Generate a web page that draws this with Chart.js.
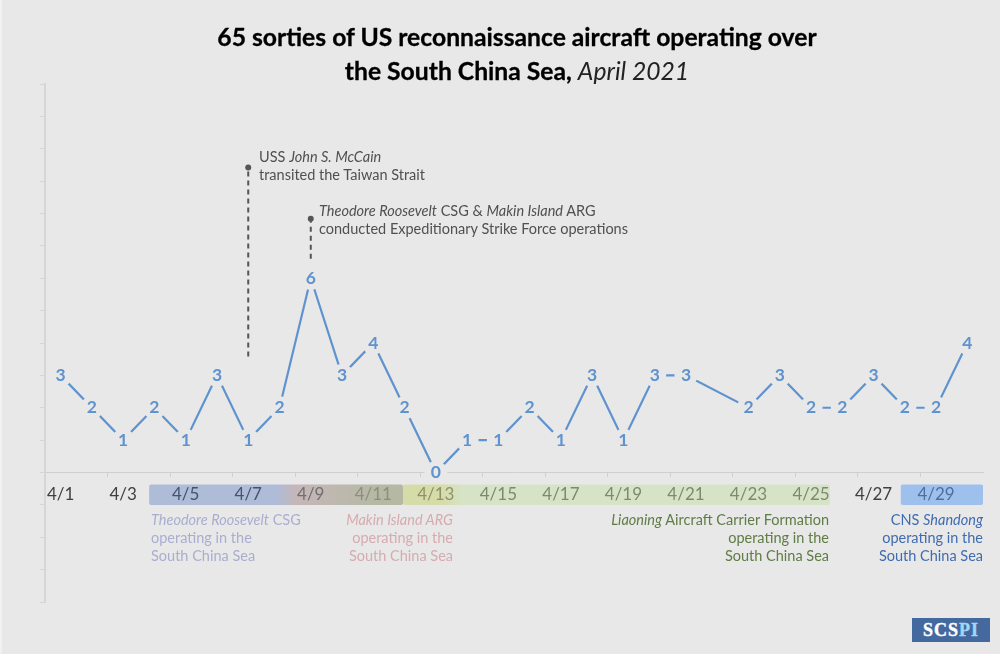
<!DOCTYPE html>
<html>
<head>
<meta charset="utf-8">
<script src="https://cdn.jsdelivr.net/npm/chart.js@4"></script>
<style>
  html, body { margin: 0; padding: 0; background: #e8e8e8; }
  #wrap { position: relative; width: 1000px; height: 654px; overflow: hidden; font-family: Lato, sans-serif; border-left: 2px solid #f1f1f1; box-sizing: border-box; }
  #myChart { position: absolute; left: -2px; top: 0; }
  .note { position: absolute; font-size: 14.5px; line-height: 18px; white-space: nowrap; }
  .right { text-align: right; }
  #title { position: absolute; left: -2px; width: 1034px; top: 20px; text-align: center; font-size: 24.7px; line-height: 34px; font-weight: 700; color: #000; -webkit-text-stroke: 0.3px #000; }
  #title i { font-weight: 400; color: #222; -webkit-text-stroke: 0; }
  #logo { position: absolute; left: 910px; top: 618px; width: 78px; height: 24px; background: #44699e; color: #fff; font: 700 18px/25px "Liberation Serif", serif; text-align: center; letter-spacing: 1px; -webkit-text-stroke: 0.4px; }
  #logo span { color: #9fd8f2; }
</style>
</head>
<body>
<div id="wrap">
  <canvas id="myChart" width="1000" height="654"></canvas>
  <div id="title">65 sorties of US reconnaissance aircraft operating over<br>the South China Sea, <i>April 2021</i></div>
  <div class="note" style="left:257px;top:148px;color:#505050">USS <i>John S. McCain</i><br>transited the Taiwan Strait</div>
  <div class="note" style="left:317px;top:202px;color:#505050"><i>Theodore Roosevelt</i> CSG &amp; <i>Makin Island</i> ARG<br>conducted Expeditionary Strike Force operations</div>
  <div class="note" style="left:149px;top:511px;color:#a9aed0"><i>Theodore Roosevelt</i> CSG<br>operating in the<br>South China Sea</div>
  <div class="note right" style="right:547px;top:511px;color:#d6abb0"><i>Makin Island ARG</i><br>operating in the<br>South China Sea</div>
  <div class="note right" style="right:171px;top:511px;color:#5f7d45"><i>Liaoning</i> Aircraft Carrier Formation<br>operating in the<br>South China Sea</div>
  <div class="note right" style="right:17px;top:511px;color:#3f6cb0">CNS <i>Shandong</i><br>operating in the<br>South China Sea</div>
  <div id="logo">SCS<span>PI</span></div>
</div>
<script>
var days = ["4/1","4/2","4/3","4/4","4/5","4/6","4/7","4/8","4/9","4/10","4/11","4/12","4/13","4/14","4/15","4/16","4/17","4/18","4/19","4/20","4/21","4/22","4/23","4/24","4/25","4/26","4/27","4/28","4/29","4/30"];
var sorties = [3,2,1,2,1,3,1,2,6,3,4,2,0,1,1,2,1,3,1,3,3,null,2,3,2,2,3,2,2,4];
var mccainLine = [{x:"4/7",y:3.58},{x:"4/7",y:9.42}];
var strikeForceLine = [{x:"4/9",y:6.6},{x:"4/9",y:7.84}];
var tickColors = {"4/1":"#404040","4/3":"#404040","4/5":"#44546a","4/7":"#44546a","4/9":"#6f6f72","4/11":"#8a8f7c","4/13":"#8f9268","4/15":"#7d8a70","4/17":"#7d8a70","4/19":"#7d8a70","4/21":"#7d8a70","4/23":"#7d8a70","4/25":"#7d8a70","4/27":"#404040","4/29":"#4f6f9f"};

var BG = "#e8e8e8";
var BLUE = "#5f93cf";

// coloured bands behind the tick labels, start and end in day index
var bands = [
  { from: 2.83, to: 10.95, stops: [[0,"#aebcd8"],[0.5,"#aebcd8"],[0.58,"#c6b6b8"],[0.75,"#bdb8ae"],[0.9,"#b5b9a4"],[1,"#b5b9a4"]] },
  { from: 10.95, to: 24.6, stops: [[0,"#d6dca8"],[0.09,"#d6dca8"],[0.14,"#d6e3c6"],[1,"#d6e3c6"]] },
  { from: 26.87, to: 29.5, stops: [[0,"#9dc0ec"],[1,"#9dc0ec"]] }
];

var bandPlugin = {
  id: "bands",
  beforeDraw: function (chart) {
    var ctx = chart.ctx, x = chart.scales.x, y = chart.scales.y;
    var top = y.getPixelForValue(-0.37), bottom = y.getPixelForValue(-1);
    bands.forEach(function (b) {
      var x0 = x.getPixelForValue(b.from), x1 = x.getPixelForValue(b.to);
      var g = ctx.createLinearGradient(x0, 0, x1, 0);
      b.stops.forEach(function (s) { g.addColorStop(s[0], s[1]); });
      ctx.fillStyle = g;
      ctx.beginPath();
      ctx.roundRect(x0, top, x1 - x0, bottom - top, 2);
      ctx.fill();
    });
  }
};

// value labels sit on top of the line, the points mask it out
var labelPlugin = {
  id: "valueLabels",
  afterDatasetsDraw: function (chart) {
    var ctx = chart.ctx, x = chart.scales.x, y = chart.scales.y;
    ctx.save();
    ctx.font = "700 17.5px Lato";
    ctx.fillStyle = BLUE;
    ctx.textAlign = "center";
    ctx.textBaseline = "middle";
    sorties.forEach(function (v, i) {
      if (v === null) return;
      ctx.fillText(String(v), x.getPixelForValue(i), y.getPixelForValue(v));
    });
    ctx.restore();
  }
};

new Chart(document.getElementById("myChart"), {
  type: "line",
  plugins: [bandPlugin, labelPlugin],
  data: {
    labels: days,
    datasets: [
      {
        data: sorties,
        borderColor: BLUE,
        borderWidth: 2.2,
        spanGaps: true,
        tension: 0,
        pointRadius: 11.5,
        pointBorderWidth: 0,
        pointBackgroundColor: BG
      },
      {
        data: mccainLine,
        borderColor: "#555555",
        borderWidth: 2,
        borderDash: [5, 4],
        pointRadius: [0, 3],
        pointBackgroundColor: "#555555",
        pointBorderWidth: 0
      },
      {
        data: strikeForceLine,
        borderColor: "#555555",
        borderWidth: 2,
        borderDash: [5, 4],
        pointRadius: [0, 3],
        pointBackgroundColor: "#555555",
        pointBorderWidth: 0
      }
    ]
  },
  options: {
    responsive: false,
    animation: false,
    layout: { padding: { left: 40, right: 17, top: 84, bottom: 52 } },
    plugins: { legend: { display: false }, tooltip: { enabled: false } },
    scales: {
      x: {
        position: { y: 0 },
        offset: true,
        border: { color: "#cfcfcf" },
        grid: {
          offset: true,
          drawOnChartArea: false,
          tickLength: 4,
          tickColor: function (c) { return c.index % 2 === 0 ? "#cfcfcf" : "rgba(0,0,0,0)"; }
        },
        ticks: {
          autoSkip: false,
          maxRotation: 0,
          padding: 8,
          font: { family: "Lato", size: 17 },
          color: function (c) { return tickColors[days[c.index]] || "#404040"; },
          callback: function (v, i) { return i % 2 === 0 ? days[i] : ""; }
        }
      },
      y: {
        min: -4,
        max: 12,
        border: { color: "#d6d6d6", width: 2 },
        grid: { drawOnChartArea: false, tickLength: 5, tickColor: "#d6d6d6" },
        ticks: { stepSize: 1, display: false }
      }
    }
  }
});
</script>
</body>
</html>
